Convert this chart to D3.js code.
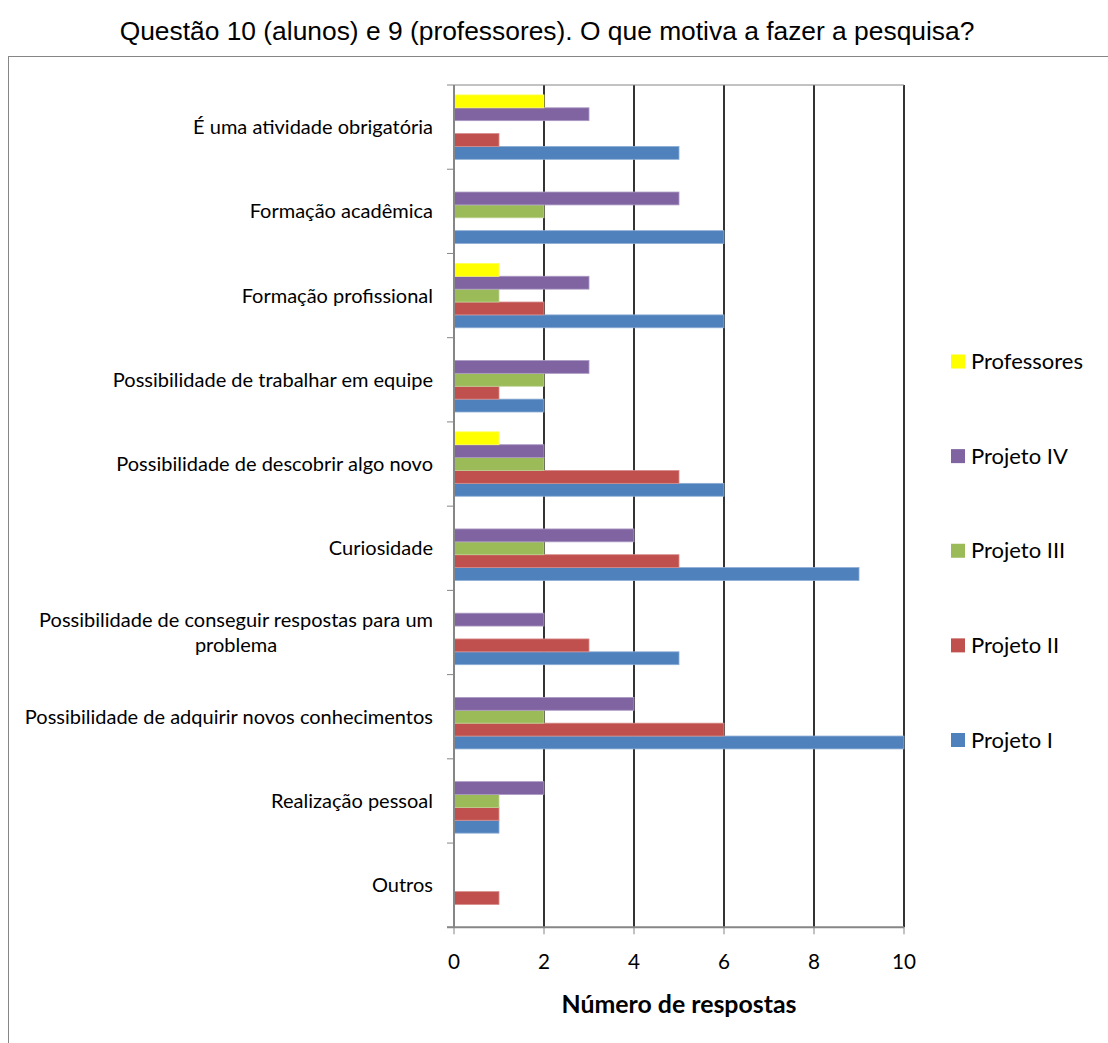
<!DOCTYPE html>
<html>
<head>
<meta charset="utf-8">
<script src="https://cdn.jsdelivr.net/npm/d3@7"></script>
<style>
  html, body { margin: 0; padding: 0; background: #fff; }
  svg { display: block; }
</style>
</head>
<body>
<svg id="chart" width="1108" height="1043"></svg>
<script>
const titleText = "Questão 10 (alunos) e 9 (professores). O que motiva a fazer a pesquisa?";
const categories = [
  "É uma atividade obrigatória",
  "Formação acadêmica",
  "Formação profissional",
  "Possibilidade de trabalhar em equipe",
  "Possibilidade de descobrir algo novo",
  "Curiosidade",
  "Possibilidade de conseguir respostas para um problema",
  "Possibilidade de adquirir novos conhecimentos",
  "Realização pessoal",
  "Outros"
];
const categoryLines = [
  ["É uma atividade obrigatória"],
  ["Formação acadêmica"],
  ["Formação profissional"],
  ["Possibilidade de trabalhar em equipe"],
  ["Possibilidade de descobrir algo novo"],
  ["Curiosidade"],
  ["Possibilidade de conseguir respostas para um", "problema"],
  ["Possibilidade de adquirir novos conhecimentos"],
  ["Realização pessoal"],
  ["Outros"]
];
const seriesNames = ["Projeto I", "Projeto II", "Projeto III", "Projeto IV", "Professores"];
const seriesColors = ["#4F81BD", "#C0504D", "#9BBB59", "#8064A2", "#FFFF00"];
const projetoI    = [5, 6, 6, 2, 6, 9, 5, 10, 1, 0];
const projetoII   = [1, 0, 2, 1, 5, 5, 3, 6, 1, 1];
const projetoIII  = [0, 2, 1, 2, 2, 2, 0, 2, 1, 0];
const projetoIV   = [3, 5, 3, 3, 2, 4, 2, 4, 2, 0];
const professores = [2, 0, 1, 0, 1, 0, 0, 0, 0, 0];
const xTicks = [0, 2, 4, 6, 8, 10];
const xAxisTitle = "Número de respostas";

const seriesValues = [projetoI, projetoII, projetoIII, projetoIV, professores];

const svg = d3.select("#chart");
const calibri = "Lato, 'Open Sans', sans-serif";
const arial = "'Liberation Sans', Arial, sans-serif";

// outer chart border
svg.append("rect")
  .attr("x", 8.5).attr("y", 56.5)
  .attr("width", 1200).attr("height", 1100)
  .attr("fill", "#fff").attr("stroke", "#868686").attr("stroke-width", 1);

// title
const title = svg.append("text")
  .attr("x", 547).attr("y", 40)
  .attr("text-anchor", "middle")
  .attr("font-family", arial).attr("font-size", 20)
  .attr("fill", "#000")
  .text(titleText);
fitWidth(title, 855, 20);

const plot = { left: 454, right: 904, top: 85, bottom: 927.3 };

const x = d3.scaleLinear().domain([0, 10]).range([plot.left, plot.right]);
const y = d3.scaleBand().domain(categories).range([plot.top, plot.bottom]).padding(0);
const ySub = d3.scaleBand()
  .domain(seriesNames.slice().reverse())
  .range([0, y.bandwidth()])
  .paddingInner(0).paddingOuter(0.77);

// gridlines
svg.append("g")
  .selectAll("line")
  .data(xTicks.filter(t => t > 0))
  .join("line")
  .attr("x1", d => x(d)).attr("x2", d => x(d))
  .attr("y1", plot.top).attr("y2", plot.bottom)
  .attr("stroke", "#000").attr("stroke-width", 1.6);

// top border line
svg.append("line")
  .attr("x1", plot.left).attr("x2", plot.right)
  .attr("y1", plot.top).attr("y2", plot.top)
  .attr("stroke", "#868686").attr("stroke-width", 1);

// bars
const rows = [];
categories.forEach((c, i) => {
  seriesNames.forEach((s, j) => {
    rows.push({ cat: c, series: s, value: seriesValues[j][i], color: seriesColors[j] });
  });
});
svg.append("g")
  .selectAll("rect")
  .data(rows.filter(d => d.value > 0))
  .join("rect")
  .attr("x", x(0))
  .attr("y", d => y(d.cat) + ySub(d.series))
  .attr("width", d => x(d.value) - x(0))
  .attr("height", ySub.bandwidth())
  .attr("fill", d => d.color)
  .attr("stroke", d => d3.interpolateRgb(d.color, "#fff")(0.35))
  .attr("stroke-width", 0.8);

// y axis
const yAxis = svg.append("g");
yAxis.append("line")
  .attr("x1", plot.left).attr("x2", plot.left)
  .attr("y1", plot.top).attr("y2", plot.bottom)
  .attr("stroke", "#868686").attr("stroke-width", 2);
const boundaries = categories.map(c => y(c)).concat([plot.bottom]);
yAxis.selectAll("line.tick")
  .data(boundaries)
  .join("line").attr("class", "tick")
  .attr("x1", plot.left - 7).attr("x2", plot.left)
  .attr("y1", d => d).attr("y2", d => d)
  .attr("stroke", "#868686").attr("stroke-width", 1);

// category labels
const labelG = svg.append("g")
  .attr("font-family", calibri).attr("font-size", 16).attr("fill", "#000");
const labels = labelG.selectAll("text")
  .data(categories)
  .join("text")
  .attr("text-anchor", "end")
  .attr("x", 433)
  .attr("y", d => y(d) + y.bandwidth() / 2)
  .attr("dy", "0.35em")
  .text((d, i) => categoryLines[i].length === 1 ? d : "");
const probe = labels.filter((d, i) => i === 0);
const scaleFs = 16 * 240 / probe.node().getComputedTextLength();
labelG.attr("font-size", scaleFs);
categories.forEach((c, i) => {
  const lines = categoryLines[i];
  if (lines.length > 1) {
    const t = labelG.append("text")
      .attr("text-anchor", "middle")
      .attr("font-size", scaleFs);
    const lineH = 25;
    const cy = y(c) + y.bandwidth() / 2 - (lines.length - 1) * lineH / 2;
    lines.forEach((ln, k) => {
      t.append("tspan").attr("x", 0).attr("y", cy + k * lineH).attr("dy", "0.35em").text(ln);
    });
    const w = d3.max(t.selectAll("tspan").nodes(), n => n.getComputedTextLength());
    t.selectAll("tspan").attr("x", 433 - w / 2);
  }
});

// x axis
const xAxisG = svg.append("g");
xAxisG.append("line")
  .attr("x1", plot.left - 7).attr("x2", plot.right)
  .attr("y1", plot.bottom).attr("y2", plot.bottom)
  .attr("stroke", "#868686").attr("stroke-width", 2);
xAxisG.selectAll("line.tick")
  .data(xTicks)
  .join("line").attr("class", "tick")
  .attr("x1", d => x(d)).attr("x2", d => x(d))
  .attr("y1", plot.bottom).attr("y2", plot.bottom + 7)
  .attr("stroke", "#868686").attr("stroke-width", 1);
const tickTexts = xAxisG.selectAll("text")
  .data(xTicks)
  .join("text")
  .attr("x", d => x(d))
  .attr("y", 962)
  .attr("dy", "0.35em")
  .attr("text-anchor", "middle")
  .attr("font-family", calibri).attr("font-size", 20)
  .attr("fill", "#000")
  .text(d => d);
const tenW = tickTexts.filter(d => d === 10).node().getComputedTextLength();
tickTexts.attr("font-size", 20 * 24 / tenW);

const axTitle = svg.append("text")
  .attr("x", 679).attr("y", 1004)
  .attr("dy", "0.35em")
  .attr("text-anchor", "middle")
  .attr("font-family", calibri).attr("font-size", 20).attr("font-weight", "bold")
  .attr("fill", "#000")
  .text(xAxisTitle);
fitWidth(axTitle, 235, 20);

// legend
const legendOrder = seriesNames.map((s, j) => ({ name: s, color: seriesColors[j] })).reverse();
const legY = d3.scalePoint().domain(legendOrder.map(d => d.name)).range([361.5, 740]);
const leg = svg.append("g");
const items = leg.selectAll("g")
  .data(legendOrder)
  .join("g")
  .attr("transform", d => `translate(951, ${legY(d.name)})`);
items.append("rect")
  .attr("x", 0).attr("y", -7).attr("width", 14).attr("height", 14)
  .attr("fill", d => d.color);
const legTexts = items.append("text")
  .attr("x", 20).attr("dy", "0.35em")
  .attr("font-family", calibri).attr("font-size", 20)
  .attr("fill", "#000")
  .text(d => d.name);
const legFs = 20 * 112 / legTexts.filter(d => d.name === "Professores").node().getComputedTextLength();
legTexts.attr("font-size", legFs);

function fitWidth(sel, target, base) {
  const w = sel.node().getComputedTextLength();
  sel.attr("font-size", base * target / w);
}
</script>
</body>
</html>
